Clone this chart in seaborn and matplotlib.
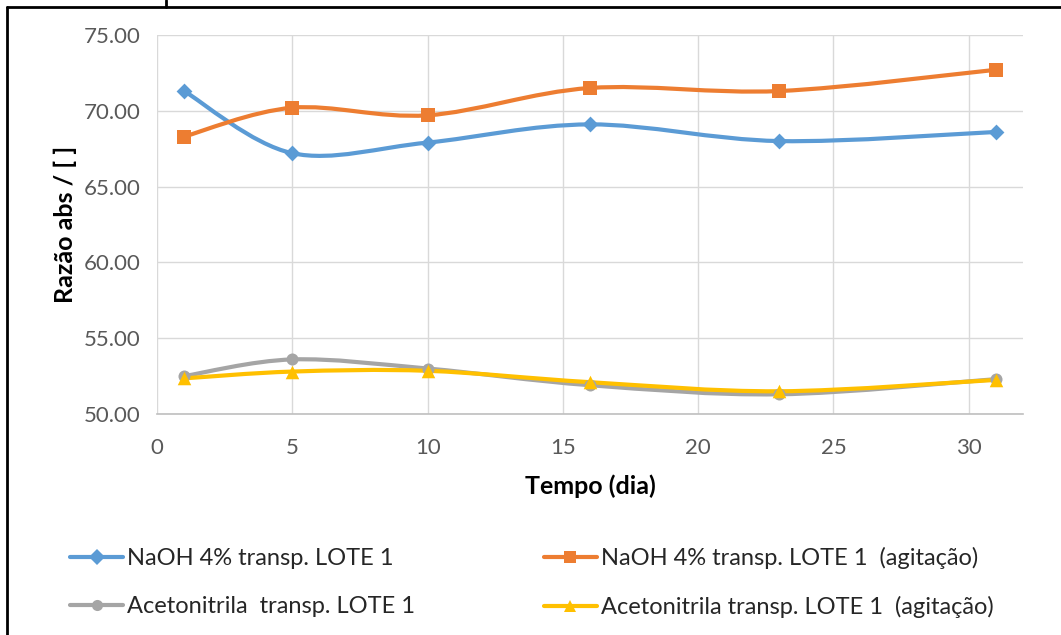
import numpy as np
import pandas as pd
import matplotlib
matplotlib.use("Agg")
import matplotlib.pyplot as plt
from matplotlib.path import Path
from matplotlib.patches import PathPatch
from matplotlib.lines import Line2D
import seaborn as sns

# Measurement days
dias = [1, 5, 10, 16, 23, 31]

# Absorbance ratio per series
naoh = [71.3, 67.2, 67.9, 69.1, 68.0, 68.6]
naoh_agit = [68.3, 70.2, 69.7, 71.5, 71.3, 72.7]
aceto = [52.5, 53.6, 53.0, 51.9, 51.3, 52.3]
aceto_agit = [52.35, 52.8, 52.85, 52.1, 51.5, 52.25]

nomes = [
    "NaOH 4% transp. LOTE 1",
    "NaOH 4% transp. LOTE 1  (agitação)",
    "Acetonitrila  transp. LOTE 1",
    "Acetonitrila transp. LOTE 1  (agitação)",
]
cores = ["#5B9BD5", "#ED7D31", "#A5A5A5", "#FFC000"]
marcadores = ["D", "s", "o", "^"]
tamanhos = [65, 90, 75, 95]

x_ticks = [0, 5, 10, 15, 20, 25, 30]
y_ticks = [50, 55, 60, 65, 70, 75]

sns.set_theme(style="white")
plt.rcParams["font.family"] = ["Lato", "DejaVu Sans"]

df = pd.DataFrame({
    "dia": dias * 4,
    "valor": naoh + naoh_agit + aceto + aceto_agit,
    "serie": sum([[n] * len(dias) for n in nomes], []),
})

fig = plt.figure(figsize=(10.61, 6.35), dpi=100)
ax = fig.add_axes([0.148, 0.348, 0.816, 0.597])


def curva_suave(xs, ys):
    """Smoothed Bezier path through the points (cardinal spline style)."""
    p = np.column_stack([xs, ys]).astype(float)
    n = len(p)
    verts = [p[0]]
    codes = [Path.MOVETO]
    for i in range(n - 1):
        p0 = p[max(i - 1, 0)]
        p1 = p[i]
        p2 = p[i + 1]
        p3 = p[min(i + 2, n - 1)]
        c1 = p1 + (p2 - p0) / 6.0
        c2 = p2 - (p3 - p1) / 6.0
        verts += [c1, c2, p2]
        codes += [Path.CURVE4] * 3
    return Path(verts, codes)


for serie, nome, cor in zip([naoh, naoh_agit, aceto, aceto_agit], nomes, cores):
    ax.add_patch(PathPatch(curva_suave(dias, serie), facecolor="none",
                           edgecolor=cor, lw=3.0, capstyle="round",
                           joinstyle="round", zorder=2))

for nome, cor, mk, sz in zip(nomes, cores, marcadores, tamanhos):
    sub = df[df["serie"] == nome]
    sns.scatterplot(data=sub, x="dia", y="valor", color=cor, marker=mk,
                    s=sz, edgecolor=cor, linewidth=0, ax=ax, zorder=3,
                    legend=False)

ax.set_xlim(0, 32)
ax.set_ylim(50, 75)
ax.set_xticks(x_ticks)
ax.set_yticks(y_ticks)
ax.set_yticklabels([f"{v:.2f}" for v in y_ticks])
ax.grid(True, color="#D9D9D9", lw=1.0)
ax.set_axisbelow(True)
for s in ["top", "right", "left"]:
    ax.spines[s].set_visible(False)
ax.spines["bottom"].set_color("#BFBFBF")
ax.spines["bottom"].set_linewidth(1.2)
ax.tick_params(axis="both", colors="#595959", labelsize=16, length=0)
ax.tick_params(axis="y", pad=12)
ax.tick_params(axis="x", pad=17)

ax.set_xlabel("Tempo (dia)", fontsize=18, fontweight="bold", color="black",
              labelpad=12)
ax.set_ylabel("Razão abs / [ ]", fontsize=18, fontweight="bold", color="black",
              labelpad=5)

# Legend in two columns below the plot
handles = [Line2D([0], [0], color=c, lw=3, marker=m, markersize=8,
                  markeredgewidth=0) for c, m in zip(cores, marcadores)]
ordem = [0, 2, 1, 3]
fig.legend([handles[i] for i in ordem], [nomes[i] for i in ordem],
           ncol=2, loc="upper left", bbox_to_anchor=(70 / 1061, 1 - 547 / 635),
           borderpad=0, borderaxespad=0,
           frameon=False, fontsize=17, handlelength=2.25, handletextpad=0.17,
           columnspacing=5.45, labelspacing=1.15)

# Outer frame edges
fig.add_artist(Line2D([7 / 1061, 7 / 1061], [0, 1 - 7 / 635], color="black",
                      lw=2, transform=fig.transFigure))
fig.add_artist(Line2D([7 / 1061, 1], [1 - 7 / 635, 1 - 7 / 635], color="black",
                      lw=2, transform=fig.transFigure))
fig.add_artist(Line2D([166 / 1061, 166 / 1061], [1 - 7 / 635, 1], color="black",
                      lw=2, transform=fig.transFigure))

fig.savefig("out.png", dpi=100)
